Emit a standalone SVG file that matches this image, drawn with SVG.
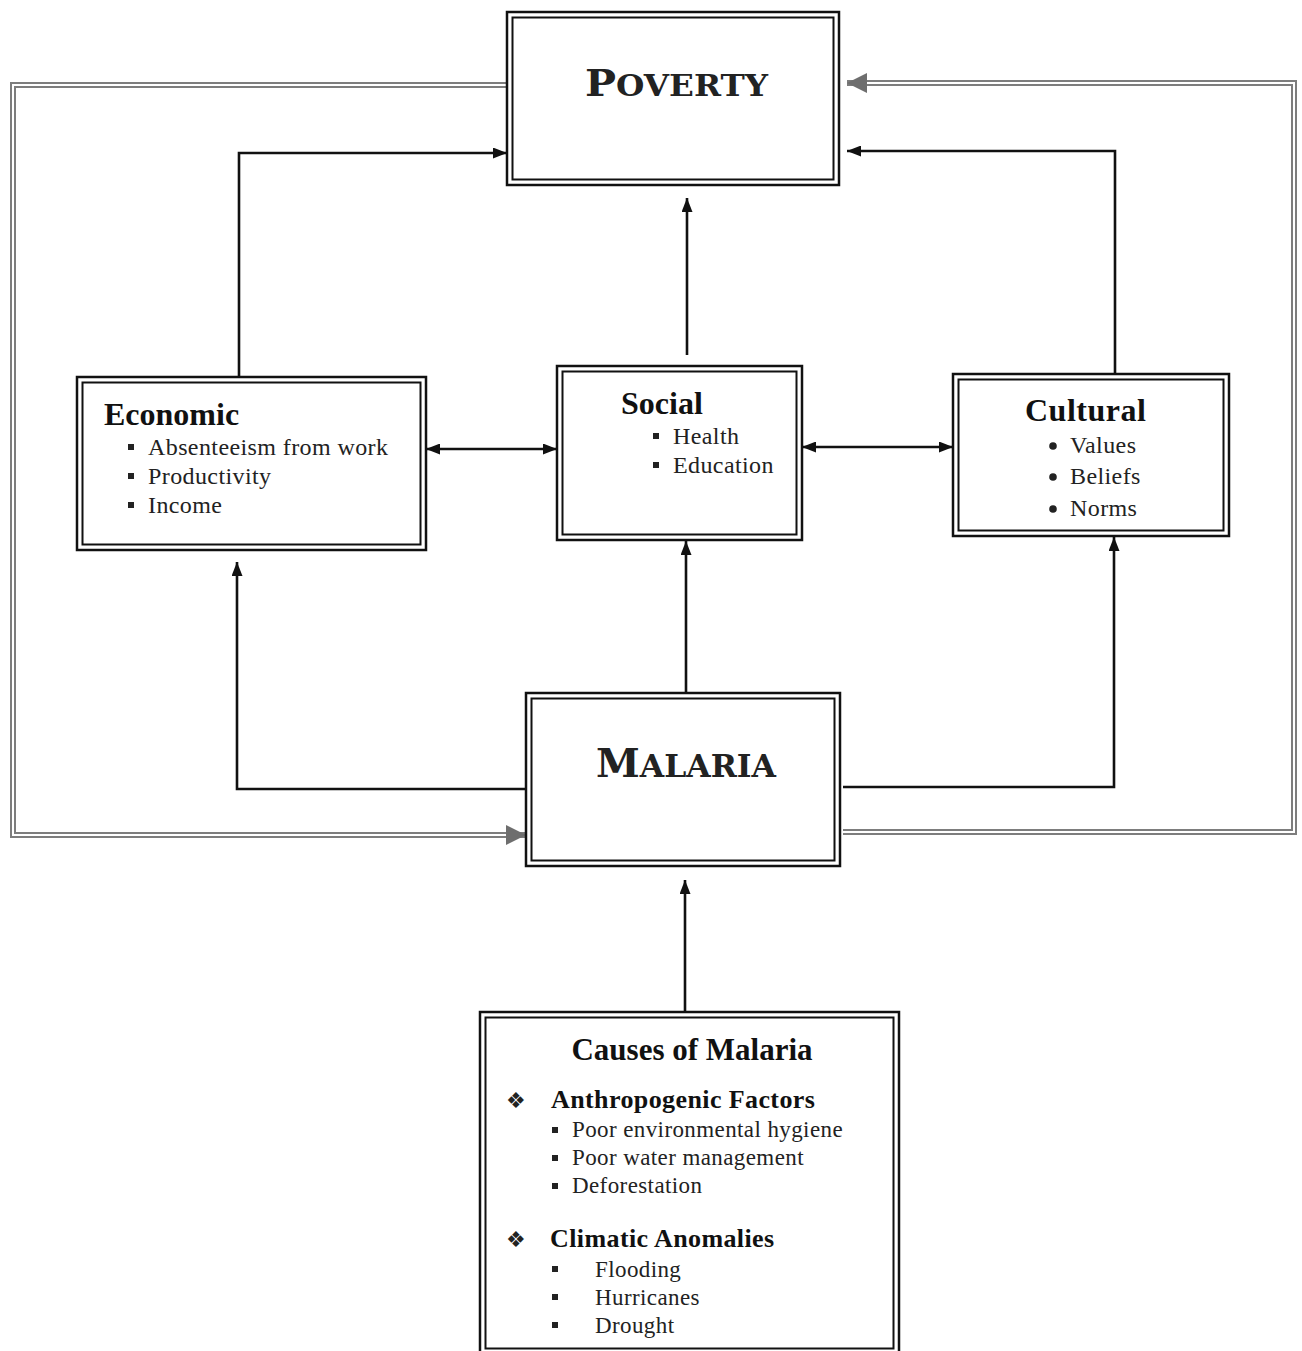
<svg xmlns="http://www.w3.org/2000/svg" width="1302" height="1351" viewBox="0 0 1302 1351">
<defs>
<style>
.bo{fill:#fff;stroke:#111;stroke-width:2.5}
.bi{fill:none;stroke:#111;stroke-width:2}
.ln{fill:none;stroke:#111;stroke-width:2.6}
.gl{fill:none;stroke:#7d7d7d;stroke-width:6}
.gw{fill:none;stroke:#fff;stroke-width:2}
.hd{font-family:"Liberation Serif","Times New Roman",serif;font-weight:bold;fill:#111}
.it{font-family:"Liberation Serif","Times New Roman",serif;fill:#222;letter-spacing:0.4px}
.sc{font-family:"DejaVu Serif","Liberation Serif",serif;font-weight:bold;fill:#222}
.sq{fill:#222}
</style>
<marker id="ah" viewBox="0 0 14 11" refX="14" refY="5.5" markerWidth="14" markerHeight="11" markerUnits="userSpaceOnUse" orient="auto-start-reverse">
<path d="M0,0 L14,5.5 L0,11 z" fill="#111"/>
</marker>
<marker id="gh" viewBox="0 0 20 20" refX="20" refY="10" markerWidth="20" markerHeight="20" markerUnits="userSpaceOnUse" orient="auto">
<path d="M0,0 L20,10 L0,20 z" fill="#6e6e6e"/>
</marker>
</defs>
<rect width="1302" height="1351" fill="#fff"/>

<g id="connectors">
<path class="gl" d="M507,85 H13 V835 H526" marker-end="url(#gh)"/>
<path class="gw" d="M507,85 H13 V835 H506"/>
<path class="gl" d="M843,832 H1294 V83 H847" marker-end="url(#gh)"/>
<path class="gw" d="M843,832 H1294 V83 H867"/>
<path class="ln" d="M239,377 V153 H507" marker-end="url(#ah)"/>
<path class="ln" d="M1115,374 V151 H847" marker-end="url(#ah)"/>
<path class="ln" d="M687,355 V198" marker-end="url(#ah)"/>
<path class="ln" d="M426,449 H557" marker-start="url(#ah)" marker-end="url(#ah)"/>
<path class="ln" d="M802,447 H953" marker-start="url(#ah)" marker-end="url(#ah)"/>
<path class="ln" d="M686,693 V541" marker-end="url(#ah)"/>
<path class="ln" d="M526,789 H237 V562" marker-end="url(#ah)"/>
<path class="ln" d="M843,787 H1114 V537" marker-end="url(#ah)"/>
<path class="ln" d="M685,1012 V880" marker-end="url(#ah)"/>
</g>

<g id="poverty">
<rect class="bo" x="507" y="12" width="332" height="173"/>
<rect class="bi" x="512.5" y="17.5" width="321" height="162"/>
<text class="sc" x="585" y="96" textLength="183" lengthAdjust="spacingAndGlyphs"><tspan font-size="38">P</tspan><tspan font-size="30">OVERTY</tspan></text>
</g>

<g id="economic">
<rect class="bo" x="77" y="377" width="349" height="173"/>
<rect class="bi" x="82.5" y="382.5" width="338" height="162"/>
<text class="hd" x="104" y="425" font-size="32">Economic</text>
<rect class="sq" x="128" y="444" width="6" height="6"/>
<rect class="sq" x="128" y="473" width="6" height="6"/>
<rect class="sq" x="128" y="502" width="6" height="6"/>
<text class="it" x="148" y="455" font-size="24">Absenteeism from work</text>
<text class="it" x="148" y="484" font-size="24">Productivity</text>
<text class="it" x="148" y="513" font-size="24">Income</text>
</g>

<g id="social">
<rect class="bo" x="557" y="366" width="245" height="174"/>
<rect class="bi" x="562.5" y="371.5" width="234" height="163"/>
<text class="hd" x="621" y="414" font-size="32">Social</text>
<rect class="sq" x="653" y="433" width="6" height="6"/>
<rect class="sq" x="653" y="462" width="6" height="6"/>
<text class="it" x="673" y="444" font-size="24">Health</text>
<text class="it" x="673" y="473" font-size="24">Education</text>
</g>

<g id="cultural">
<rect class="bo" x="953" y="374" width="276" height="162"/>
<rect class="bi" x="958.5" y="379.5" width="265" height="151"/>
<text class="hd" x="1025" y="421" font-size="32" letter-spacing="0.5">Cultural</text>
<circle class="sq" cx="1053" cy="446" r="3.8"/>
<circle class="sq" cx="1053" cy="477" r="3.8"/>
<circle class="sq" cx="1053" cy="509" r="3.8"/>
<text class="it" x="1070" y="453" font-size="24">Values</text>
<text class="it" x="1070" y="484" font-size="24">Beliefs</text>
<text class="it" x="1070" y="516" font-size="24">Norms</text>
</g>

<g id="malaria">
<rect class="bo" x="526" y="693" width="314" height="173"/>
<rect class="bi" x="531.5" y="698.5" width="303" height="162"/>
<text class="sc" x="596" y="777" textLength="180" lengthAdjust="spacingAndGlyphs"><tspan font-size="39">M</tspan><tspan font-size="31">ALARIA</tspan></text>
</g>

<g id="causes">
<rect class="bo" x="480" y="1012" width="419" height="345"/>
<rect class="bi" x="485.5" y="1017.5" width="408" height="331"/>
<text class="hd" x="692" y="1060" font-size="31" text-anchor="middle">Causes of Malaria</text>
<text x="506" y="1108" font-size="22" fill="#222" font-family="DejaVu Sans,sans-serif">❖</text>
<text class="hd" x="551" y="1108" font-size="26" letter-spacing="0.4">Anthropogenic Factors</text>
<rect class="sq" x="552" y="1127" width="6" height="6"/>
<rect class="sq" x="552" y="1155" width="6" height="6"/>
<rect class="sq" x="552" y="1183" width="6" height="6"/>
<text class="it" x="572" y="1137" font-size="23">Poor environmental hygiene</text>
<text class="it" x="572" y="1165" font-size="23">Poor water management</text>
<text class="it" x="572" y="1193" font-size="23">Deforestation</text>
<text x="506" y="1247" font-size="22" fill="#222" font-family="DejaVu Sans,sans-serif">❖</text>
<text class="hd" x="550" y="1247" font-size="26" letter-spacing="0.4">Climatic Anomalies</text>
<rect class="sq" x="552" y="1266" width="6" height="6"/>
<rect class="sq" x="552" y="1294" width="6" height="6"/>
<rect class="sq" x="552" y="1322" width="6" height="6"/>
<text class="it" x="595" y="1277" font-size="23">Flooding</text>
<text class="it" x="595" y="1305" font-size="23">Hurricanes</text>
<text class="it" x="595" y="1333" font-size="23">Drought</text>
</g>
</svg>
